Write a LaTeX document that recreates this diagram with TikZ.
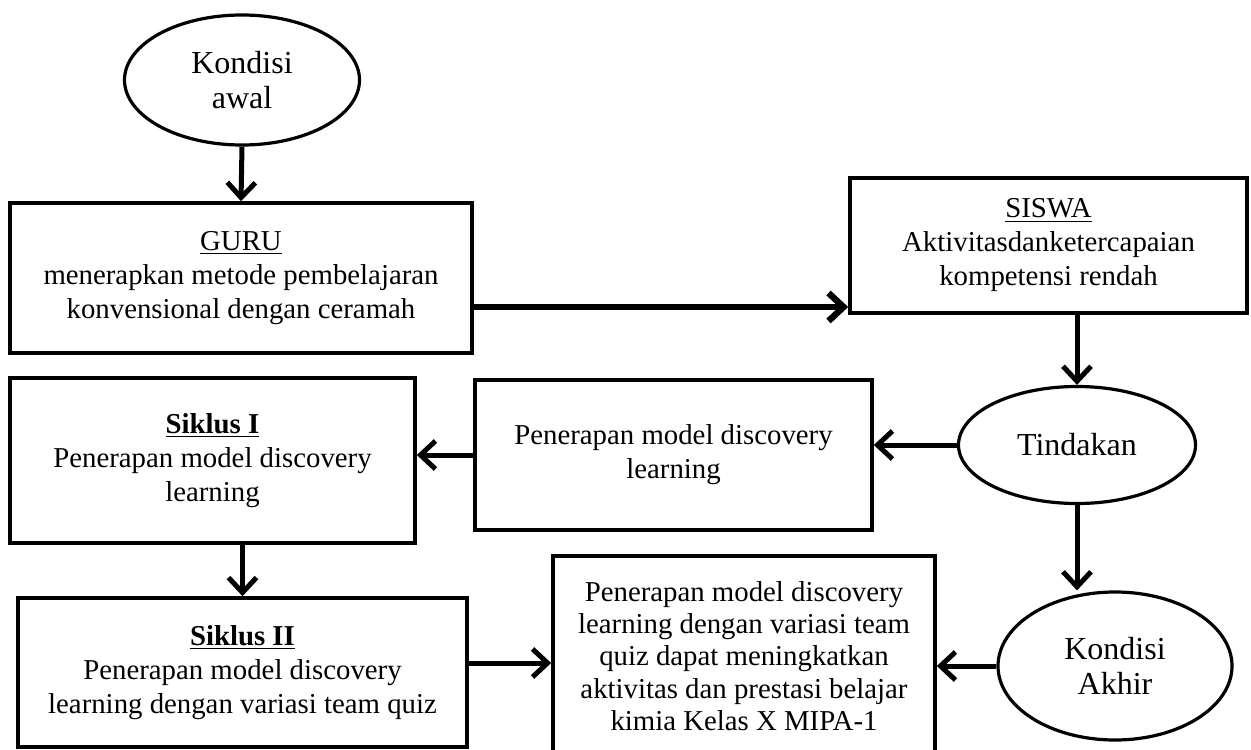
\documentclass[tikz,border=0pt]{standalone}
\usepackage{fontspec}
\setmainfont{Liberation Serif}
\usetikzlibrary{shapes.geometric,arrows.meta}

\begin{document}
\begin{tikzpicture}[x=0.5pt,y=-0.5pt,
		kotak/.style={draw, line width=1.8pt, rectangle, inner sep=0pt, align=center,
			font=\fontsize{14.4}{17}\selectfont},
		elips/.style={draw, line width=1.6pt, ellipse, inner sep=0pt, align=center,
			font=\fontsize{16}{17.5}\selectfont},
		panah/.style={line width=2.5pt, -{Straight Barb[length=7.5pt,width=14pt]}},
	]
		\useasboundingbox (0,0) rectangle (1251,749);
		%
		\node[elips, minimum width=117.5pt, minimum height=65pt] (awal) at (242,80) {Kondisi\\awal};
		\node[kotak, minimum width=231pt, minimum height=75pt] (guru) at (241,278)
			{\underline{GURU}\\menerapkan metode pembelajaran\\konvensional dengan ceramah};
		\node[kotak, minimum width=198.5pt, minimum height=67.5pt] (siswa) at (1048.5,245.5)
			{\underline{SISWA}\\Aktivitasdanketercapaian\\kompetensi rendah};
		%
		\node[elips, minimum width=118.5pt, minimum height=58.5pt] (tindakan) at (1077,445) {Tindakan};
		\node[kotak, minimum width=198.5pt, minimum height=75pt] (tengah) at (673.5,455)
			{Penerapan model discovery\\learning};
		\node[kotak, minimum width=202.5pt, minimum height=82.5pt] (siklus1) at (212.5,460.5)
			{\textbf{\underline{Siklus I}}\\Penerapan model discovery\\learning};
		%
		\node[kotak, minimum width=224.5pt, minimum height=74.5pt] (siklus2) at (242.5,672.5)
			{\textbf{\underline{Siklus II}}\\Penerapan model discovery\\learning dengan variasi team quiz};
		\node[kotak, minimum width=191pt, minimum height=100pt, font=\fontsize{14.4}{16.2}\selectfont] (akhirbox) at (744,656)
			{Penerapan model discovery\\learning dengan variasi team\\quiz dapat meningkatkan\\aktivitas dan prestasi belajar\\kimia Kelas X MIPA-1};
		\node[elips, minimum width=117pt, minimum height=74pt] (akhir) at (1115,666) {Kondisi\\Akhir};
		%
		\draw[panah] (awal.south) -- (guru.north);
		\draw[panah, line width=3.2pt] (guru.east |- 0,307) -- (siswa.west |- 0,307);
		\draw[panah] (siswa.south -| tindakan.north) -- (tindakan.north);
		\draw[panah] (tindakan.west) -- (tindakan.west -| tengah.east);
		\draw[panah] (tengah.west) -- (tengah.west -| siklus1.east);
		\draw[panah] (siklus1.south -| siklus2.north) -- (siklus2.north);
		\draw[panah] (siklus2.east |- 0,663) -- (akhirbox.west |- 0,663);
		\draw[panah] (tindakan.south) -- (tindakan.south |- akhir.north);
		\draw[panah] (akhir.west) -- (akhir.west -| akhirbox.east);
	\end{tikzpicture}
\end{document}
